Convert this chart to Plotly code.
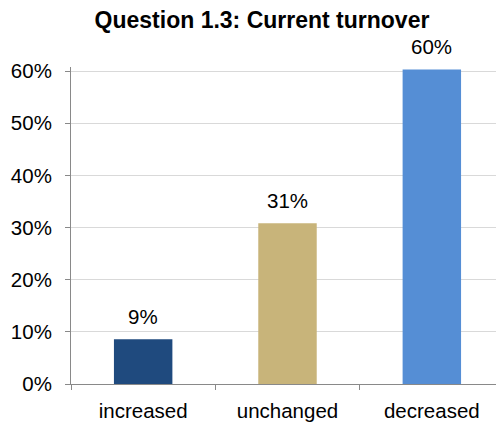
import plotly.graph_objects as go

categories = ["increased", "unchanged", "decreased"]
values = [0.086, 0.308, 0.603]
labels = ["9%", "31%", "60%"]
colors = ["#1F4A7E", "#C8B47A", "#558ED5"]
y_ticks = [0, 0.1, 0.2, 0.3, 0.4, 0.5, 0.6]
y_tick_text = ["0%", "10%", "20%", "30%", "40%", "50%", "60%"]

FONT = "Liberation Sans, Arial, sans-serif"

fig = go.Figure(go.Bar(
    x=categories, y=values, marker=dict(color=colors, line=dict(width=0)),
    width=0.405, hoverinfo="skip",
))

for c, v, t in zip(categories, values, labels):
    fig.add_annotation(x=c, y=v, text=t, showarrow=False, yanchor="bottom",
                       yshift=9, font=dict(size=20.5, color="#000000", family=FONT))

# page body has an 8px margin, so the figure is sized to fill the rest
W, H = 496, 415
fig.update_layout(
    width=W, height=H,
    margin=dict(l=63, r=0, t=59, b=39),
    paper_bgcolor="white", plot_bgcolor="white",
    title=dict(text="<b>Question 1.3: Current turnover</b>", x=254 / W, xref="container",
               xanchor="center", y=1 - 12 / H, yref="container", yanchor="middle",
               font=dict(size=23, color="#000000", family=FONT)),
    font=dict(family=FONT, size=20.5, color="#000000"),
    showlegend=False,
)
fig.update_yaxes(range=[0, 0.6077], tickvals=y_ticks, ticktext=y_tick_text,
                 showgrid=True, gridcolor="#D9D9D9", gridwidth=1,
                 showline=True, linecolor="#898989", linewidth=1,
                 ticks="outside", ticklen=5, tickcolor="#898989",
                 ticklabelstandoff=9,
                 tickfont=dict(size=20.5, family=FONT, color="#000000"),
                 zeroline=False, fixedrange=True)
fig.update_xaxes(showline=True, linecolor="#898989", linewidth=1,
                 ticks="outside", tickson="boundaries", ticklen=5, tickcolor="#898989",
                 ticklabelstandoff=8,
                 tickfont=dict(size=20.5, family=FONT, color="#000000"),
                 showgrid=False, fixedrange=True)

fig.write_html("out.html", config={"displayModeBar": False})
